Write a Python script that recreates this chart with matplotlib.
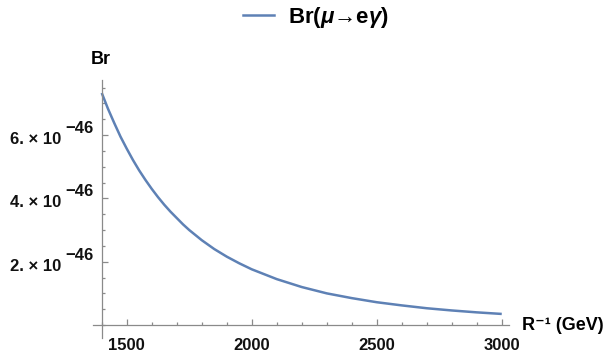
"""Br(mu -> e gamma) versus inverse compactification radius."""

import matplotlib

matplotlib.use("Agg")
import matplotlib.pyplot as plt  # noqa: E402
from matplotlib.lines import Line2D  # noqa: E402
from matplotlib.ticker import MultipleLocator, NullFormatter  # noqa: E402

# values (Br in units of 1e-46)
r_inv = [1400, 1425, 1450, 1475, 1500, 1525, 1550, 1575, 1600, 1625, 1650,
         1675, 1700, 1725, 1750, 1775, 1800, 1850, 1900, 1950, 2000, 2100,
         2200, 2300, 2400, 2500, 2600, 2700, 2800, 2900, 3000]
br_e46 = [7.33, 6.83, 6.38, 5.95, 5.57, 5.21, 4.88, 4.58, 4.30, 4.04, 3.80,
          3.58, 3.38, 3.18, 3.00, 2.84, 2.68, 2.40, 2.16, 1.95, 1.76, 1.45,
          1.20, 1.00, 0.85, 0.72, 0.62, 0.53, 0.46, 0.40, 0.35]
br = [v * 1e-46 for v in br_e46]

x_major = [1500, 2000, 2500, 3000]
y_mantissa = [2, 4, 6]
y_exponent = -46

LINE = "#5e81b5"
AXIS = "#8a8a8a"
FONT = ["Liberation Sans", "DejaVu Sans"]

plt.rcParams["font.family"] = FONT
plt.rcParams["font.weight"] = "bold"
plt.rcParams["mathtext.fontset"] = "custom"
plt.rcParams["mathtext.rm"] = "Liberation Sans:bold"
plt.rcParams["mathtext.bf"] = "Liberation Sans:bold"
plt.rcParams["mathtext.it"] = "Liberation Sans:italic:bold"

fig = plt.figure(figsize=(6.12, 3.52), dpi=100)
ax = fig.add_axes([93 / 612, 14 / 352, 416 / 612, 258 / 352])

ax.plot(r_inv, br, color=LINE, lw=1.8, solid_capstyle="butt")

ax.set_xlim(1365, 3029)
ax.set_ylim(-0.41e-46, 7.74e-46)

for side in ("top", "right"):
    ax.spines[side].set_visible(False)
ax.spines["left"].set_position(("data", 1400))
ax.spines["bottom"].set_position(("data", 0))
for side in ("left", "bottom"):
    ax.spines[side].set_color(AXIS)
    ax.spines[side].set_linewidth(0.9)

ax.set_xticks(x_major)
ax.xaxis.set_minor_locator(MultipleLocator(100))
ax.set_yticks([m * 10.0 ** y_exponent for m in y_mantissa])
ax.yaxis.set_minor_locator(MultipleLocator(0.5e-46))
ax.yaxis.set_major_formatter(NullFormatter())
ax.tick_params(which="both", direction="in", color=AXIS, width=0.9,
               labelsize=12, labelcolor="#111111")
ax.tick_params(which="major", length=4.5)
ax.tick_params(which="minor", length=2.5)
ax.tick_params(axis="x", pad=9)

# Mathematica-style "6.×10^-46" labels: exponent is full size, just raised
for m in y_mantissa:
    yv = m * 10.0 ** y_exponent
    ax.annotate(f"{m}. \u00d7 10", xy=(1400, yv), xytext=(-40, -9),
                textcoords="offset pixels", ha="right", va="baseline",
                fontsize=12, fontweight="bold", color="#111111")
    ax.annotate(f"\u2212{-y_exponent}", xy=(1400, yv), xytext=(-36, 2),
                textcoords="offset pixels", ha="left", va="baseline",
                fontsize=12, fontweight="bold", color="#111111")

fig.text(101 / 612, 1 - 60 / 352, "Br", ha="center", va="center",
         fontsize=13, fontweight="bold")
fig.text(522 / 612, 1 - 325 / 352, "R\u207b\u00b9 (GeV)", ha="left", va="center",
         fontsize=13, fontweight="bold")

handle = Line2D([], [], color=LINE, lw=1.8)
fig.legend([handle], [r"Br($\mu$→e$\gamma$)"], loc="center",
           bbox_to_anchor=(316 / 612, 1 - 17 / 352), frameon=False,
           prop={"size": 16, "weight": "bold"}, handlelength=1.4,
           handletextpad=0.6)

fig.savefig("out.png", dpi=100)
plt.close(fig)
